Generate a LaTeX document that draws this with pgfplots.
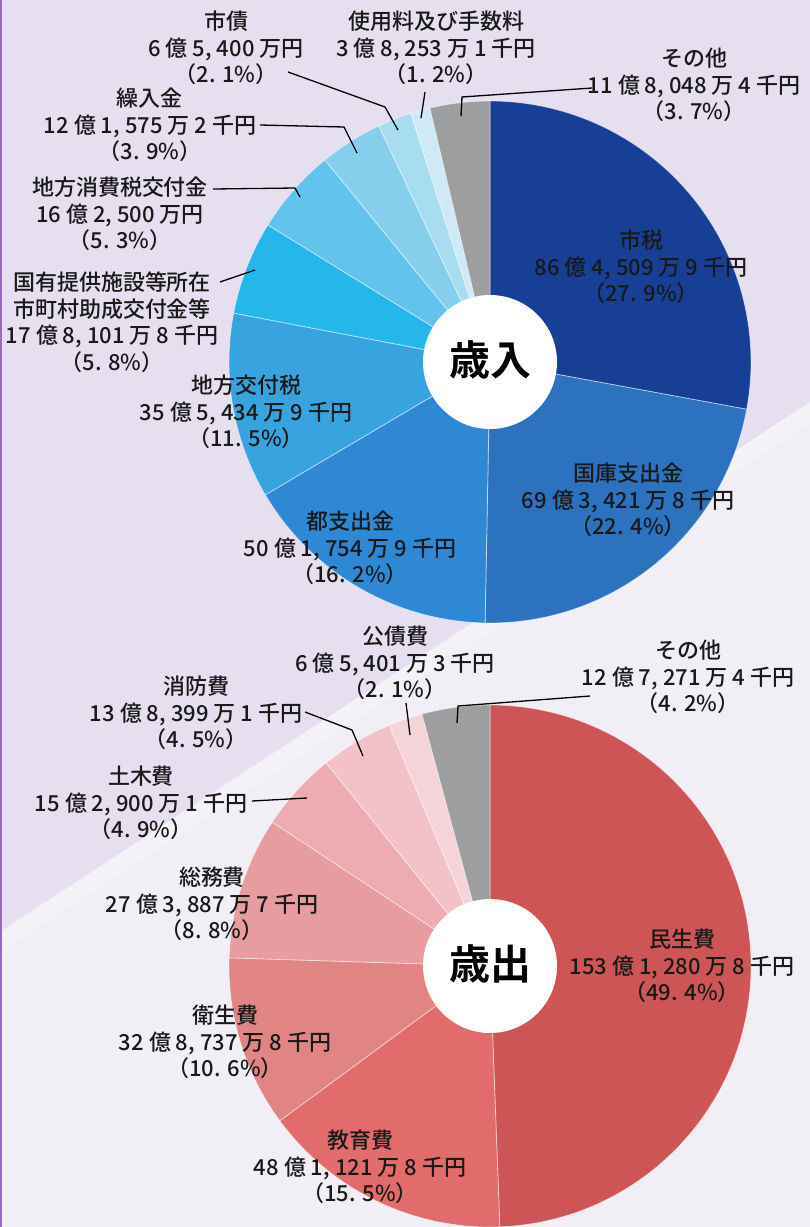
\documentclass[border=0pt]{standalone}
\usepackage{pgfplots}
\pgfplotsset{compat=1.18}
\usepackage{fontspec}
\setmainfont{Noto Sans CJK JP Medium}[BoldFont={Noto Sans CJK JP Bold}]

\definecolor{bgA}{HTML}{E5DFF0}
\definecolor{bgB}{HTML}{F1EEF6}
\definecolor{edgeP}{HTML}{9966CC}
% revenue colours
\definecolor{rA}{HTML}{183F96}
\definecolor{rB}{HTML}{2D72BE}
\definecolor{rC}{HTML}{2F88D4}
\definecolor{rD}{HTML}{37A4E0}
\definecolor{rE}{HTML}{25B6EA}
\definecolor{rF}{HTML}{62C3EC}
\definecolor{rG}{HTML}{86CFEC}
\definecolor{rH}{HTML}{A8DCF1}
\definecolor{rI}{HTML}{CFE9F7}
\definecolor{gr}{HTML}{9D9E9F}
% expenditure colours
\definecolor{eA}{HTML}{CD5555}
\definecolor{eB}{HTML}{E26B6C}
\definecolor{eC}{HTML}{E08583}
\definecolor{eD}{HTML}{E79D9F}
\definecolor{eE}{HTML}{ECACB2}
\definecolor{eF}{HTML}{F3C2C8}
\definecolor{eG}{HTML}{F4D4D8}

% wedge: cx, cy, start %, end %, colour
\newcommand\wedgeP[5]{%
  \fill[#5, draw=white, draw opacity=0.5, line width=0.8pt]
    (axis cs:#1,#2) -- ++({90-3.6*#3}:261pt)
    arc[start angle={90-3.6*#3}, end angle={90-3.6*#4}, radius=261pt] -- cycle;}
\newcommand\lbl[3]{\node[align=center, inner sep=0pt, text=black!90,
   font=\fontsize{22}{26.5}\selectfont] at (axis cs:#1,#2) {#3};}

\begin{document}
\begin{tikzpicture}
\begin{axis}[x=1pt, y=1pt, xmin=0, xmax=810, ymin=0, ymax=1227,
  y dir=reverse, hide axis, clip=true]
% background
\fill[bgA] (axis cs:0,0) rectangle (axis cs:810,1227);
\fill[bgB] (axis cs:0,932) -- (axis cs:810,402) -- (axis cs:810,1227) -- (axis cs:0,1227) -- cycle;
\draw[white, opacity=0.22, line width=18pt] (axis cs:-40,968) -- (axis cs:860,380);
\fill[edgeP] (axis cs:0,0) rectangle (axis cs:2,1227);

% ---------- revenue pie (percent of total) ----------
\wedgeP{490}{362}{0}{27.9}{rA}
\wedgeP{490}{362}{27.9}{50.3}{rB}
\wedgeP{490}{362}{50.3}{66.5}{rC}
\wedgeP{490}{362}{66.5}{78.0}{rD}
\wedgeP{490}{362}{78.0}{83.8}{rE}
\wedgeP{490}{362}{83.8}{89.1}{rF}
\wedgeP{490}{362}{89.1}{93.0}{rG}
\wedgeP{490}{362}{93.0}{95.1}{rH}
\wedgeP{490}{362}{95.1}{96.3}{rI}
\wedgeP{490}{362}{96.3}{100}{gr}
\fill[white] (axis cs:490,362) circle[radius=67pt];
\node[font=\bfseries\fontsize{41}{41}\selectfont] at (axis cs:490,360) {歳入};

% ---------- expenditure pie ----------
\wedgeP{490}{966}{0}{49.4}{eA}
\wedgeP{490}{966}{49.4}{64.9}{eB}
\wedgeP{490}{966}{64.9}{75.5}{eC}
\wedgeP{490}{966}{75.5}{84.3}{eD}
\wedgeP{490}{966}{84.3}{89.2}{eE}
\wedgeP{490}{966}{89.2}{93.7}{eF}
\wedgeP{490}{966}{93.7}{95.8}{eG}
\wedgeP{490}{966}{95.8}{100}{gr}
\fill[white] (axis cs:490,966) circle[radius=67pt];
\node[font=\bfseries\fontsize{41}{41}\selectfont] at (axis cs:490,964) {歳出};

% leader lines
\draw[black, line width=1.3pt] (axis cs:592,88) -- (axis cs:462,97) -- (axis cs:461,116);
\draw[black, line width=1.3pt] (axis cs:425,92) -- (axis cs:421,118);
\draw[black, line width=1.3pt] (axis cs:288,72) -- (axis cs:385,107) -- (axis cs:398,130);
\draw[black, line width=1.3pt] (axis cs:260,125) -- (axis cs:344,127) -- (axis cs:357,153);
\draw[black, line width=1.3pt] (axis cs:213,189) -- (axis cs:295,188) -- (axis cs:300,197);
\draw[black, line width=1.3pt] (axis cs:220,282) -- (axis cs:255,270);
\draw[black, line width=1.3pt] (axis cs:590,696) -- (axis cs:458,706) -- (axis cs:457,723);
\draw[black, line width=1.3pt] (axis cs:406,703) -- (axis cs:410,735);
\draw[black, line width=1.3pt] (axis cs:305,712) -- (axis cs:352,730) -- (axis cs:363,756);
\draw[black, line width=1.3pt] (axis cs:252,801) -- (axis cs:307,798);

% revenue labels
\lbl{641}{267}{市税\\86 億 4, 509 万 9 千円\\（27. 9\%）}
\lbl{628}{500}{国庫支出金\\69 億 3, 421 万 8 千円\\（22. 4\%）}
\lbl{350}{548}{都支出金\\50 億 1, 754 万 9 千円\\（16. 2\%）}
\lbl{246}{412}{地方交付税\\35 億 5, 434 万 9 千円\\（11. 5\%）}
\lbl{112}{322}{国有提供施設等所在\\市町村助成交付金等\\17 億 8, 101 万 8 千円\\（5. 8\%）}
\lbl{120}{214}{地方消費税交付金\\16 億 2, 500 万円\\（5. 3\%）}
\lbl{150}{125}{繰入金\\12 億 1, 575 万 2 千円\\（3. 9\%）}
\lbl{226}{48}{市債\\6 億 5, 400 万円\\（2. 1\%）}
\lbl{436}{48}{使用料及び手数料\\3 億 8, 253 万 1 千円\\（1. 2\%）}
\lbl{694}{85}{その他\\11 億 8, 048 万 4 千円\\（3. 7\%）}

% expenditure labels
\lbl{682}{966}{民生費\\153 億 1, 280 万 8 千円\\（49. 4\%）}
\lbl{360}{1167}{教育費\\48 億 1, 121 万 8 千円\\（15. 5\%）}
\lbl{225}{1042}{衛生費\\32 億 8, 737 万 8 千円\\（10. 6\%）}
\lbl{212}{904}{総務費\\27 億 3, 887 万 7 千円\\（8. 8\%）}
\lbl{141}{803}{土木費\\15 億 2, 900 万 1 千円\\（4. 9\%）}
\lbl{196}{713}{消防費\\13 億 8, 399 万 1 千円\\（4. 5\%）}
\lbl{395}{663}{公債費\\6 億 5, 401 万 3 千円\\（2. 1\%）}
\lbl{688}{677}{その他\\12 億 7, 271 万 4 千円\\（4. 2\%）}
\end{axis}
\end{tikzpicture}
\end{document}
